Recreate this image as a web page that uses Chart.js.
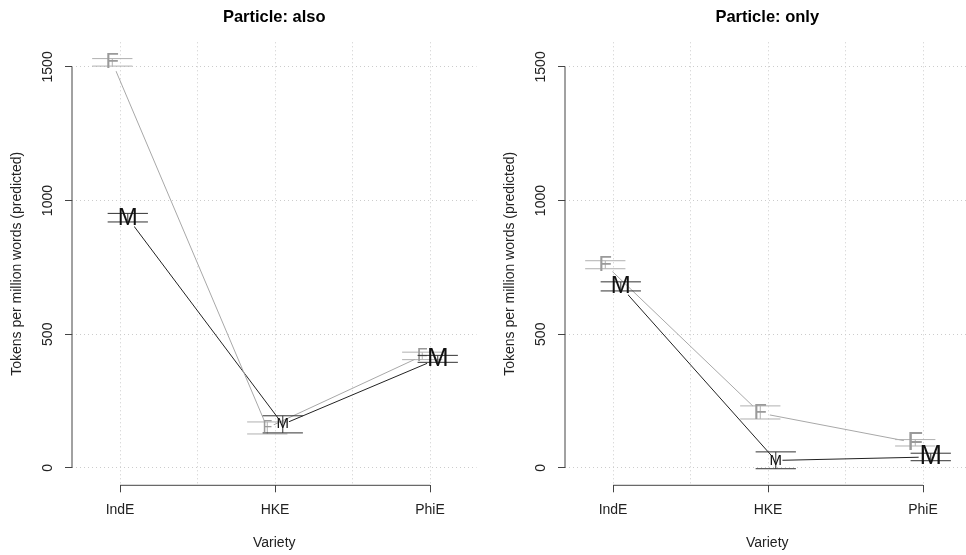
<!DOCTYPE html>
<html lang="en">
<head>
<meta charset="UTF-8">
<title>Particle: also / only</title>
<script src="https://cdn.jsdelivr.net/npm/chart.js@4.4.0/dist/chart.umd.min.js"></script>
<style>
  html, body { margin: 0; padding: 0; background: #fff; overflow: hidden; }
  body { width: 966px; height: 555px; position: relative; }
  .painel { position: absolute; top: 0; width: 483px; height: 555px; }
  #painelAlso { left: 0; }
  #painelOnly { left: 493px; }
</style>
</head>
<body>
<div class="painel" id="painelAlso"><canvas id="graficoAlso" width="483" height="555"></canvas></div>
<div class="painel" id="painelOnly"><canvas id="graficoOnly" width="483" height="555"></canvas></div>

<script>
// ---- dados ----
const variedades = ['IndE', 'HKE', 'PhiE'];
const yTicks = [0, 500, 1000, 1500];

// Particle: also
const alsoF = [1517, 150, 419];
const alsoF_lo = [1503, 127, 405];
const alsoF_hi = [1531, 172, 433];
const alsoM = [935, 163, 408];
const alsoM_lo = [920, 131, 395];
const alsoM_hi = [952, 195, 421];

// Particle: only
const onlyF = [760, 205, 94];
const onlyF_lo = [745, 183, 82];
const onlyF_hi = [775, 232, 106];
const onlyM = [678, 28, 41];
const onlyM_lo = [662, -3, 27];
const onlyM_hi = [696, 60, 55];

// ---- estilo ----
const FONTE = 'Liberation Sans, Arial, Helvetica, sans-serif';
const DESLOC = 0.05;   // deslocamento lateral F / M
const CAPA = 0.13;     // meia largura das barras
const corF = '#9a9a9a';
const corM = '#111111';
// tamanho (px) das letras em cada ponto
const tamAlsoF = [22, 16, 18];
const tamAlsoM = [24, 15, 26];
const tamOnlyF = [22, 22, 26];
const tamOnlyM = [24, 15, 27];

Chart.defaults.font.family = FONTE;
Chart.defaults.color = '#222';

// linha do eixo só entre o primeiro e o último tick (como no R)
const eixosR = {
  id: 'eixosR',
  afterDraw(chart) {
    const { ctx, chartArea, scales: { x, y } } = chart;
    ctx.save();
    ctx.strokeStyle = '#444';
    ctx.lineWidth = 1;
    ctx.beginPath();
    ctx.moveTo(chartArea.left, y.getPixelForValue(yTicks[0]));
    ctx.lineTo(chartArea.left, y.getPixelForValue(yTicks[yTicks.length - 1]));
    ctx.moveTo(x.getPixelForValue(0), chartArea.bottom);
    ctx.lineTo(x.getPixelForValue(variedades.length - 1), chartArea.bottom);
    ctx.stroke();
    ctx.restore();
  }
};

// barras de erro e letras F / M; as linhas param antes da letra (type = "b")
function pluginLetras(series) {
  return {
    id: 'letras',
    beforeDatasetDraw(chart, args) {
      const s = series[args.index];
      const { ctx, chartArea, scales: { x, y } } = chart;
      ctx.save();
      ctx.beginPath();
      ctx.rect(chartArea.left, chartArea.top, chartArea.right - chartArea.left, chartArea.bottom - chartArea.top);
      s.est.forEach(function (v, i) {
        const px = x.getPixelForValue(i + s.desloc);
        const py = y.getPixelForValue(v);
        const r = s.tam[i] * 0.45;
        ctx.moveTo(px + r, py);
        ctx.arc(px, py, r, 0, Math.PI * 2);
      });
      ctx.clip('evenodd');
    },
    afterDatasetDraw(chart) {
      chart.ctx.restore();
    },
    afterDatasetsDraw(chart) {
      const { ctx, scales: { x, y } } = chart;
      ctx.save();
      series.forEach(function (s) {
        s.est.forEach(function (v, i) {
          const xc = i + s.desloc;
          const px = x.getPixelForValue(xc);
          const x1 = x.getPixelForValue(xc - CAPA);
          const x2 = x.getPixelForValue(xc + CAPA);
          const yl = y.getPixelForValue(s.lo[i]);
          const yh = y.getPixelForValue(s.hi[i]);
          ctx.strokeStyle = s.corBarra;
          ctx.lineWidth = 1;
          ctx.beginPath();
          ctx.moveTo(x1, yl); ctx.lineTo(x2, yl);
          ctx.moveTo(x1, yh); ctx.lineTo(x2, yh);
          ctx.moveTo(px, yl); ctx.lineTo(px, yh);
          ctx.stroke();

          ctx.fillStyle = s.cor;
          ctx.font = s.tam[i] + 'px ' + FONTE;
          ctx.textAlign = 'center';
          ctx.textBaseline = 'middle';
          ctx.fillText(s.letra, px, y.getPixelForValue(v));
        });
      });
      ctx.restore();
    }
  };
}

function montarGrafico(canvasId, titulo, fEst, fLo, fHi, fTam, mEst, mLo, mHi, mTam) {
  const series = [
    { letra: 'F', est: fEst, lo: fLo, hi: fHi, tam: fTam, desloc: -DESLOC, cor: corF, corBarra: '#b0b0b0' },
    { letra: 'M', est: mEst, lo: mLo, hi: mHi, tam: mTam, desloc: DESLOC, cor: corM, corBarra: '#333' }
  ];

  const dados = {
    datasets: series.map(function (s) {
      return {
        label: s.letra,
        data: s.est.map(function (v, i) { return { x: i + s.desloc, y: v }; }),
        showLine: true,
        borderColor: s.letra === 'F' ? '#a8a8a8' : '#222',
        borderWidth: 1,
        pointRadius: 0,
        tension: 0,
        fill: false
      };
    })
  };

  const grade = {
    color: '#cccccc',
    lineWidth: 1,
    tickLength: 7,
    tickWidth: 1,
    tickBorderDash: [],
    tickColor: function (c) { return Number.isInteger(c.tick.value) ? '#444' : 'rgba(0,0,0,0)'; }
  };

  const config = {
    type: 'scatter',
    data: dados,
    options: {
      responsive: false,
      animation: false,
      devicePixelRatio: 1,
      layout: { padding: { left: 0, right: 6.5, top: 0, bottom: 0 } },
      plugins: {
        legend: { display: false },
        tooltip: { enabled: false },
        title: {
          display: true,
          text: titulo,
          fullSize: false,
          color: '#000',
          font: { size: 16.5, weight: 'bold' },
          padding: { top: 7.1, bottom: 15.4 }
        }
      },
      scales: {
        x: {
          type: 'linear',
          min: -0.31,
          max: 2.3,
          afterBuildTicks: function (s) { s.ticks = [0, 0.5, 1, 1.5, 2].map(function (v) { return { value: v }; }); },
          afterFit: function (s) { s.height = 69.7; },
          grid: grade,
          border: { display: false, dash: [1, 3] },
          ticks: {
            autoSkip: false,
            maxRotation: 0,
            padding: 9,
            color: '#222',
            font: { size: 14 },
            callback: function (v) { return Number.isInteger(v) ? variedades[v] : ''; }
          },
          title: { display: true, text: 'Variety', color: '#222', font: { size: 14 }, padding: { top: 0, bottom: 3.6 } }
        },
        y: {
          min: -65,
          max: 1592,
          afterBuildTicks: function (s) { s.ticks = yTicks.map(function (v) { return { value: v }; }); },
          afterFit: function (s) { s.width = 72; },
          grid: grade,
          border: { display: false, dash: [1, 3] },
          ticks: {
            minRotation: 90,
            maxRotation: 90,
            crossAlign: 'center',
            padding: 1.5,
            color: '#222',
            font: { size: 14 },
            callback: function (v) { return String(v); }
          },
          title: { display: true, text: 'Tokens per million words (predicted)', color: '#222', font: { size: 14 }, padding: { top: 8.6, bottom: 0 } }
        }
      }
    },
    plugins: [eixosR, pluginLetras(series)]
  };

  return new Chart(document.getElementById(canvasId), config);
}

montarGrafico('graficoAlso', 'Particle: also', alsoF, alsoF_lo, alsoF_hi, tamAlsoF, alsoM, alsoM_lo, alsoM_hi, tamAlsoM);
montarGrafico('graficoOnly', 'Particle: only', onlyF, onlyF_lo, onlyF_hi, tamOnlyF, onlyM, onlyM_lo, onlyM_hi, tamOnlyM);
</script>
</body>
</html>
